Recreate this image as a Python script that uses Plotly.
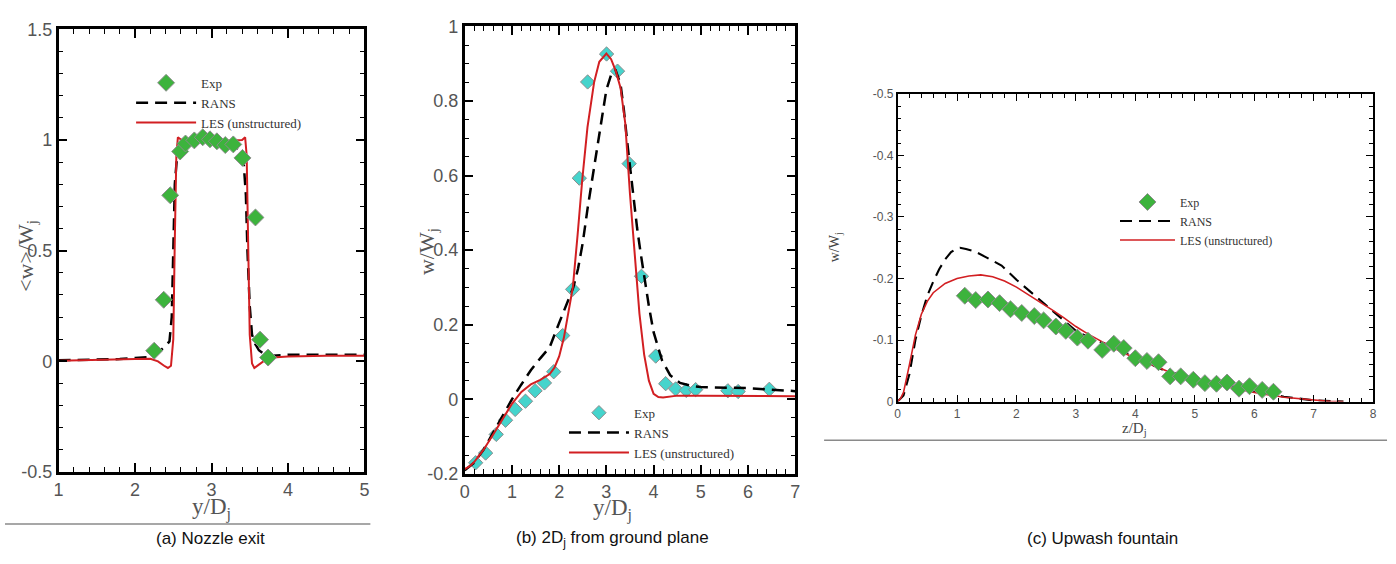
import plotly.graph_objects as go

W, H = 1396, 564

# ---------------- Panel (a): Nozzle exit ----------------
a_exp_x = [2.25, 2.375, 2.46, 2.59, 2.66, 2.775, 2.885, 2.98, 3.07, 3.18, 3.285, 3.405, 3.575, 3.635, 3.74]
a_exp_y = [0.048, 0.278, 0.750, 0.948, 0.984, 0.998, 1.012, 1.003, 0.994, 0.977, 0.980, 0.919, 0.650, 0.098, 0.017]

a_rans_x = [1.0, 1.5, 1.8, 2.0, 2.2, 2.3, 2.4, 2.45, 2.48, 2.5, 2.52, 2.55, 2.6, 2.7, 2.8, 3.0, 3.2, 3.3,
            3.38, 3.42, 3.45, 3.47, 3.5, 3.53, 3.57, 3.62, 3.7, 3.8, 4.0, 4.5, 5.0]
a_rans_y = [0.005, 0.008, 0.01, 0.015, 0.02, 0.04, 0.07, 0.09, 0.2, 0.5, 0.8, 0.93, 0.97, 0.99, 1.0, 1.0, 0.99, 0.97,
            0.95, 0.9, 0.75, 0.5, 0.25, 0.12, 0.08, 0.05, 0.03, 0.025, 0.03, 0.03, 0.03]

a_les_x = [1.0, 1.5, 2.0, 2.2, 2.3, 2.38, 2.43, 2.47, 2.5, 2.52, 2.54, 2.56, 2.6, 2.8, 3.0, 3.2, 3.4, 3.44,
           3.46, 3.48, 3.5, 3.53, 3.56, 3.62, 3.7, 3.85, 4.0, 4.5, 5.0]
a_les_y = [0.003, 0.005, 0.01, 0.012, 0.0, -0.02, -0.03, -0.02, 0.1, 0.55, 0.93, 1.012, 1.002, 0.998, 0.997, 0.997, 1.0, 1.012,
           0.93, 0.5, 0.12, -0.01, -0.03, -0.015, 0.005, 0.018, 0.022, 0.025, 0.025]

a_yticks = [-0.5, 0, 0.5, 1, 1.5]
a_yticktext = ["-0.5", "0", "0.5", "1", "1.5"]

# ---------------- Panel (b): 2Dj from ground plane ----------------
b_exp_x = [0.232, 0.443, 0.668, 0.865, 1.069, 1.287, 1.491, 1.689, 1.885, 2.075, 2.286, 2.427, 2.603, 3.004,
           3.236, 3.482, 3.743, 4.045, 4.256, 4.467, 4.692, 4.89, 5.572, 5.79, 6.45]
b_exp_y = [-0.170, -0.144, -0.094, -0.056, -0.027, -0.005, 0.023, 0.044, 0.074, 0.171, 0.295, 0.593, 0.851, 0.926,
           0.880, 0.632, 0.330, 0.116, 0.042, 0.028, 0.024, 0.026, 0.023, 0.021, 0.027]

b_rans_x = [0.0, 0.2, 0.4, 0.6, 0.8, 1.0, 1.2, 1.4, 1.6, 1.8, 2.0, 2.1, 2.2, 2.3, 2.4, 2.5, 2.6, 2.7, 2.8, 2.9, 3.0,
            3.1, 3.19, 3.3, 3.37, 3.45, 3.55, 3.65, 3.72, 3.8, 3.9, 4.0, 4.18, 4.35, 4.56, 4.8, 5.0, 6.0, 7.0]
b_rans_y = [-0.19, -0.17, -0.135, -0.09, -0.045, 0.0, 0.04, 0.078, 0.11, 0.14, 0.205, 0.235, 0.265, 0.30, 0.35, 0.42,
            0.51, 0.59, 0.67, 0.755, 0.83, 0.87, 0.885, 0.845, 0.776, 0.68, 0.565, 0.46, 0.397, 0.33, 0.25, 0.18,
            0.104, 0.065, 0.044, 0.036, 0.033, 0.03, 0.022]

b_les_x = [0.0, 0.1, 0.2, 0.4, 0.6, 0.8, 1.0, 1.2, 1.4, 1.6, 1.8, 1.9, 2.0, 2.1, 2.2, 2.29, 2.39, 2.49, 2.6, 2.74,
           2.85, 3.0, 3.1, 3.2, 3.3, 3.4, 3.5, 3.6, 3.7, 3.8, 3.9, 4.0, 4.1, 4.2, 4.5, 5.0, 6.0, 7.0]
b_les_y = [-0.187, -0.18, -0.168, -0.135, -0.095, -0.055, -0.012, 0.02, 0.04, 0.052, 0.068, 0.085, 0.115, 0.165,
           0.235, 0.30, 0.44, 0.59, 0.73, 0.85, 0.905, 0.927, 0.912, 0.88, 0.835, 0.74, 0.55, 0.38, 0.23, 0.12, 0.05,
           0.015, 0.006, 0.005, 0.01, 0.01, 0.009, 0.008]

b_yticks = [-0.2, 0, 0.2, 0.4, 0.6, 0.8, 1]
b_yticktext = ["-0.2", "0", "0.2", "0.4", "0.6", "0.8", "1"]

# ---------------- Panel (c): Upwash fountain ----------------
c_exp_x = [1.131, 1.315, 1.521, 1.716, 1.90, 2.089, 2.30, 2.457, 2.663, 2.83, 3.025, 3.203, 3.443, 3.638,
           3.805, 4.0, 4.195, 4.39, 4.585, 4.763, 4.975, 5.17, 5.365, 5.543, 5.744, 5.92, 6.134, 6.323]
c_exp_y = [-0.172, -0.165, -0.166, -0.160, -0.150, -0.144, -0.139, -0.132, -0.122, -0.115, -0.104, -0.099, -0.084,
           -0.094, -0.087, -0.0705, -0.066, -0.064, -0.041, -0.041, -0.0355, -0.030, -0.029, -0.031, -0.021, -0.025,
           -0.019, -0.016]

c_rans_x = [0.0, 0.1, 0.2, 0.3, 0.4, 0.5, 0.6, 0.7, 0.8, 0.9, 1.0, 1.05, 1.15, 1.3, 1.5, 1.75, 2.0, 2.25, 2.5,
            2.75, 3.0, 3.2, 3.6, 4.0, 4.5, 5.0, 5.5, 6.0, 6.5, 7.0, 7.5]
c_rans_y = [0.0, -0.01, -0.045, -0.1, -0.14, -0.172, -0.195, -0.215, -0.231, -0.243, -0.249, -0.25, -0.248, -0.244,
            -0.234, -0.221, -0.198, -0.177, -0.156, -0.135, -0.115, -0.105, -0.09, -0.072, -0.05, -0.038, -0.028,
            -0.016, -0.008, -0.002, 0.0]

c_les_x = [0.0, 0.05, 0.1, 0.15, 0.2, 0.3, 0.4, 0.5, 0.6, 0.8, 1.0, 1.2, 1.4, 1.6, 1.8, 2.0, 2.2, 2.4, 2.6, 2.8,
           3.0, 3.2, 3.4, 3.6, 3.8, 4.0, 4.2, 4.4, 4.6, 4.8, 5.0, 5.5, 6.0, 6.5, 7.0, 7.3, 7.5]
c_les_y = [0.0, -0.005, -0.015, -0.035, -0.06, -0.108, -0.142, -0.163, -0.177, -0.192, -0.200, -0.204, -0.206, -0.203,
           -0.196, -0.186, -0.174, -0.161, -0.149, -0.136, -0.122, -0.110, -0.099, -0.089, -0.079, -0.071, -0.063,
           -0.055, -0.047, -0.041, -0.036, -0.025, -0.015, -0.007, -0.002, 0.0, 0.0]

c_yticks = [0, -0.1, -0.2, -0.3, -0.4, -0.5]
c_yticktext = ["0", "-0.1", "-0.2", "-0.3", "-0.4", "-0.5"]

LEG_LABELS = ["Exp", "RANS", "LES (unstructured)"]

RED = "#d21f22"
GREEN = "#3db33d"
CYAN = "#45d4cc"
SANS = "Liberation Sans, Arial, sans-serif"
SERIF = "Liberation Serif, Times New Roman, serif"


def px(x):
    return x / W


def py(y):
    return 1 - y / H


fig = go.Figure()


def add_panel(xa, ya, leg, ex, ey, rx, ry, lx, ly, mcolor, msize, lwid, markers_on_top):
    exp = go.Scatter(x=ex, y=ey, mode="markers", name=LEG_LABELS[0], legend=leg, legendrank=1,
                     xaxis=xa, yaxis=ya,
                     marker=dict(symbol="diamond", size=msize, color=mcolor,
                                 line=dict(color="#8c8c8c", width=1)))
    rans = go.Scatter(x=rx, y=ry, mode="lines", name=LEG_LABELS[1], legend=leg, legendrank=2,
                      xaxis=xa, yaxis=ya,
                      line=dict(color="black", width=lwid + 0.5, dash="12px,7px"))
    les = go.Scatter(x=lx, y=ly, mode="lines", name=LEG_LABELS[2], legend=leg, legendrank=3,
                     xaxis=xa, yaxis=ya, line=dict(color=RED, width=lwid))
    if markers_on_top:
        fig.add_traces([rans, les, exp])
    else:
        fig.add_traces([exp, rans, les])


add_panel("x", "y", "legend", a_exp_x, a_exp_y, a_rans_x, a_rans_y, a_les_x, a_les_y, GREEN, 13, 2, True)
add_panel("x2", "y2", "legend2", b_exp_x, b_exp_y, b_rans_x, b_rans_y, b_les_x, b_les_y, CYAN, 11, 2, False)
add_panel("x3", "y3", "legend3", c_exp_x, c_exp_y, c_rans_x, c_rans_y, c_les_x, c_les_y, GREEN, 13, 1.6, True)


def axis(domain, rng, anchor, dtick, minor_dtick, fsize, lw, tl, mtl, tickvals=None, ticktext=None):
    d = dict(domain=domain, range=rng, anchor=anchor, showline=True, linecolor="black", linewidth=lw,
             mirror="allticks", ticks="inside", ticklen=tl, tickwidth=max(lw - 0.5, 1), tickcolor="black",
             showgrid=False, zeroline=False,
             tickfont=dict(family=SANS, size=fsize, color="#555555"),
             minor=dict(dtick=minor_dtick, ticks="inside", ticklen=mtl, tickwidth=1.2, tickcolor="black",
                        showgrid=False))
    if tickvals is not None:
        d.update(tickmode="array", tickvals=tickvals, ticktext=ticktext)
    else:
        d.update(tickmode="linear", tick0=0, dtick=dtick)
    return d


fig.update_layout(
    width=W, height=H, autosize=False,
    margin=dict(l=0, r=0, t=0, b=0),
    plot_bgcolor="white", paper_bgcolor="white",
    xaxis=axis([px(54), px(362)], [1, 5], "y", 1, 0.2, 18, 2.5, 9, 5),
    yaxis=axis([py(479), py(20)], [-0.5, 1.5], "x", 0.5, 0.1, 18, 2.5, 9, 5, a_yticks, a_yticktext),
    xaxis2=axis([px(463), px(796)], [0, 7], "y2", 1, 0.2, 18, 2.5, 9, 5),
    yaxis2=axis([py(481), py(17)], [-0.2, 1], "x2", 0.2, 0.05, 18, 2.5, 9, 5, b_yticks, b_yticktext),
    xaxis3=axis([px(899), px(1378)], [0, 8], "y3", 1, 0.2, 12, 1.5, 7, 4),
    yaxis3=axis([py(406), py(87)], [0, -0.5], "x3", 0.1, 0.02, 12, 1.5, 7, 4, c_yticks, c_yticktext),
    legend=dict(x=px(127), y=py(60), xanchor="left", yanchor="top", itemwidth=60, bgcolor="rgba(0,0,0,0)",
                font=dict(family=SERIF, size=13, color="#333333"), tracegroupgap=0),
    legend2=dict(x=px(563), y=py(402), xanchor="left", yanchor="top", itemwidth=60, bgcolor="rgba(0,0,0,0)",
                 font=dict(family=SERIF, size=13, color="#333333"), tracegroupgap=0),
    legend3=dict(x=px(1118), y=py(184), xanchor="left", yanchor="top", itemwidth=55, bgcolor="rgba(0,0,0,0)",
                 font=dict(family=SERIF, size=12, color="#333333"), tracegroupgap=0),
)

ann = []
# axis titles
ann.append(dict(x=px(22), y=py(255), text="&lt;w&gt;/W<sub>j</sub>", textangle=-90,
                font=dict(family=SERIF, size=22, color="#555555")))
ann.append(dict(x=px(208), y=py(517), text="y/D<sub>j</sub>", font=dict(family=SERIF, size=23, color="#555555")))
ann.append(dict(x=px(426), y=py(250), text="w/W<sub>j</sub>", textangle=-90,
                font=dict(family=SERIF, size=22, color="#555555")))
ann.append(dict(x=px(612), y=py(518), text="y/D<sub>j</sub>", font=dict(family=SERIF, size=23, color="#555555")))
ann.append(dict(x=px(836), y=py(246), text="w/W<sub>j</sub>", textangle=-90,
                font=dict(family=SERIF, size=14, color="#444444")))
ann.append(dict(x=px(1138), y=py(434), text="z/D<sub>j</sub>", font=dict(family=SERIF, size=15, color="#444444")))
# captions
ann.append(dict(x=px(207), y=py(548), text="(a) Nozzle exit", font=dict(family=SANS, size=17, color="#111111")))
ann.append(dict(x=px(612), y=py(548), text="(b) 2D<sub>j</sub> from ground plane",
                font=dict(family=SANS, size=17, color="#111111")))
ann.append(dict(x=px(1105), y=py(548), text="(c) Upwash fountain", font=dict(family=SANS, size=17, color="#111111")))
for a in ann:
    a.update(xref="paper", yref="paper", showarrow=False, xanchor="center", yanchor="middle")
fig.update_layout(annotations=ann)

fig.update_layout(shapes=[
    dict(type="line", xref="paper", yref="paper", x0=px(0), x1=px(368), y0=py(533), y1=py(533),
         line=dict(color="#8a8a8a", width=1.5)),
    dict(type="line", xref="paper", yref="paper", x0=px(825), x1=px(1392), y0=py(446), y1=py(446),
         line=dict(color="#8a8a8a", width=1.5)),
])

fig.write_html("out.html", config={"displayModeBar": False},
               post_script="document.body.style.margin='0px';document.body.style.overflow='hidden';")
